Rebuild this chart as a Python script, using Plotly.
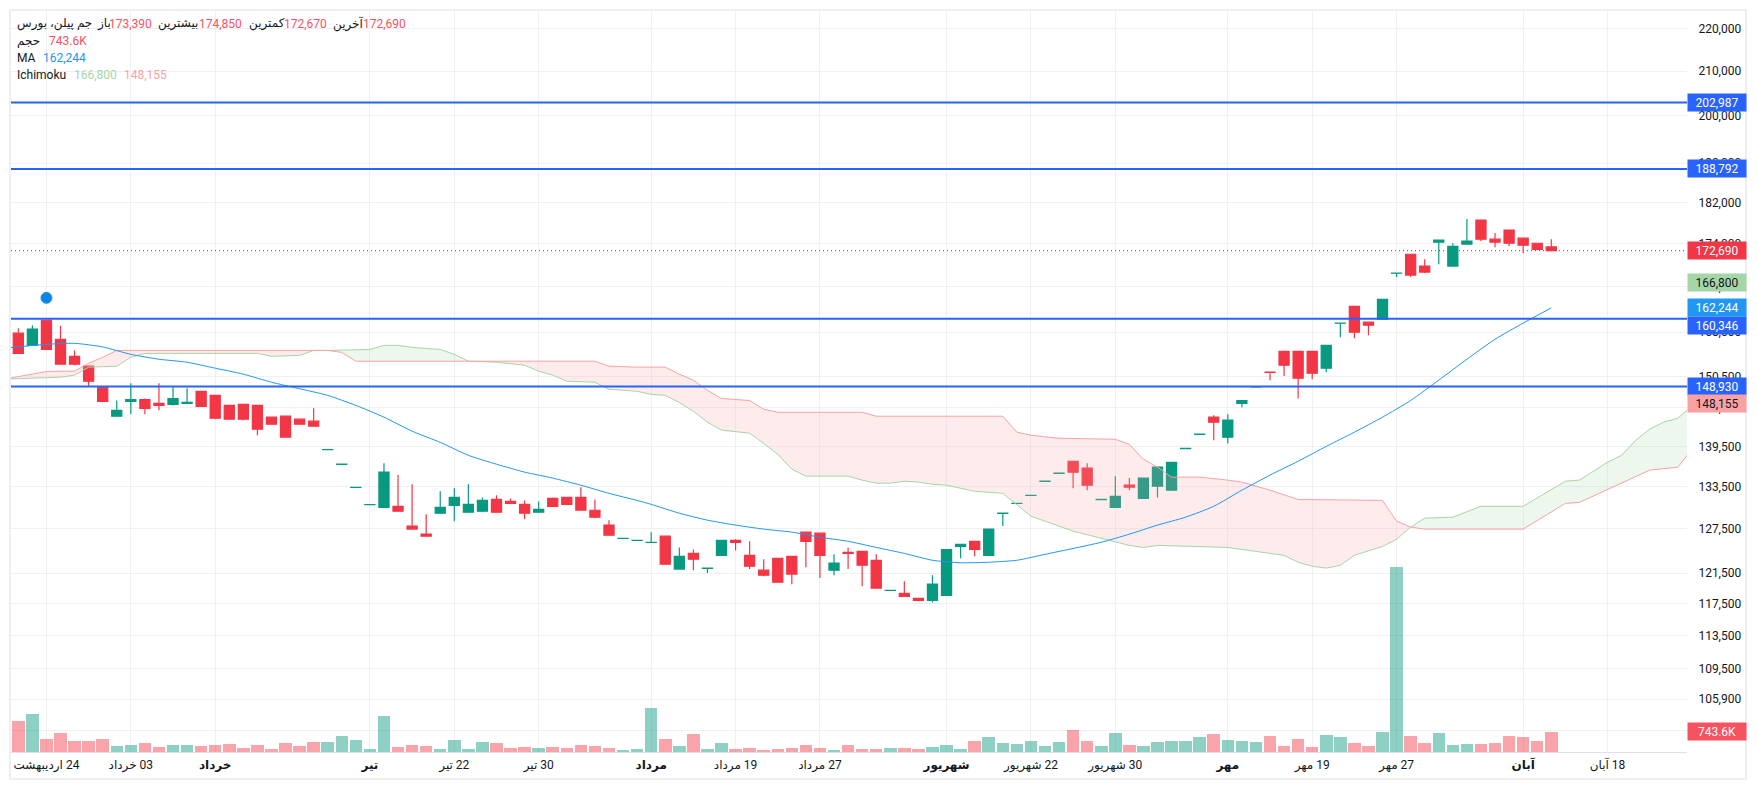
import math
import plotly.graph_objects as go

# candles, index 0..109
opens = [157830,155750,160090,156790,153900,152250,148800,144170,146510,146820,146200,146040,146200,148140,147480,145880,146040,145880,144020,144170,
         143700,143390,139010,136800,133390,130900,130540,130680,127890,126770,129700,130820,129840,129980,131660,131380,130960,129840,131810,131950,
         131950,130120,128030,126190,125910,125630,126490,122030,124140,122140,123880,125930,123880,121890,123480,123740,127050,126910,121890,124270,
         124410,123210,119230,118850,118190,117930,118590,125090,125790,123880,129680,131080,132230,134290,135470,137260,136230,131640,130540,133720,
         131810,133580,132990,139170,141350,144020,140900,146200,148850,151260,154720,154720,154720,151920,159550,162520,159740,160260,168500,172010,
         169810,174290,169810,173900,178540,174870,176610,175060,174090,173390]
highs = [158700,159220,160090,159050,154890,152250,148800,146660,149450,146980,149450,148800,148630,148140,147480,145880,146040,145880,144020,144170,
         143700,145420,139030,136820,133410,130920,136970,135200,133870,129560,132840,133280,133870,131950,132250,131810,131520,131380,131950,131950,
         133430,131660,128720,126210,125930,127050,126490,124950,124670,122160,125930,126070,125790,123350,123480,123740,127050,126910,124010,124950,
         124410,124010,119250,120440,118190,121230,124670,125370,125790,127470,129700,131100,132250,134310,135490,137260,136970,131660,135050,134760,
         134760,136380,137110,139190,141370,144330,144480,146660,148870,151260,154720,154720,154720,155750,159570,162520,159740,163740,168520,172010,
         171090,174670,174090,178740,178540,176030,176610,175060,174090,174850]
lows = [154390,155750,155050,152580,152420,148960,146510,144170,144480,144480,145110,145880,146200,145730,143700,143700,143550,141210,142920,140900,
        142920,142610,139010,136800,133390,130900,130540,129980,127470,126490,129700,128580,129840,129840,129840,130960,128860,129840,130680,130960,
        130120,129000,126630,126190,125910,125630,122690,122030,121890,121500,123880,124540,122030,121100,120310,120040,122290,120840,121230,122030,
        119780,119510,119230,118460,117930,117670,118590,123480,123740,123880,127890,131080,132230,134290,135470,133280,132990,131640,130540,132990,
        131810,131950,132990,139170,141350,140430,139960,145570,148850,149950,150610,146980,150110,151260,157130,156960,157480,160260,167780,167780,
        168520,170170,169810,173900,174480,173320,173510,172190,172750,172670]
closes = [154390,158530,155050,152580,152580,149780,146510,145110,146820,145420,145880,146980,146350,145730,143860,143700,143700,142150,142920,140900,
          142920,142610,139030,136820,133410,130920,135640,129980,127470,126490,130540,131950,130960,131520,129840,131100,129700,130260,130680,130960,
          130120,129140,126630,126210,125930,125650,122690,123740,123350,122160,125930,125650,122420,121230,120310,121370,125790,123880,122820,124140,
          122550,119510,119250,118460,117930,120040,124670,125370,124670,127470,129700,131100,132250,134310,135490,135640,133720,131660,132100,133430,
          134760,136380,137110,139190,141370,143240,143550,146660,148870,151240,152420,150280,151100,155750,159570,158000,159220,163740,168520,168150,
          168700,174670,173510,174480,174870,174290,174090,173710,172930,172690]

# volume in thousands, first value is the bar cut by the left edge
volumes = [372,1166,1426,496,719,422,422,496,236,273,347,198,273,273,236,273,310,161,273,124,347,
           236,384,384,608,459,124,1352,198,273,236,124,459,124,384,347,161,198,161,198,161,
           273,236,161,87,124,1649,496,236,682,124,347,124,161,87,124,161,273,161,87,273,
           124,124,161,161,124,198,273,124,422,570,347,310,422,236,384,831,422,236,719,273,
           236,384,422,422,558,670,446,409,372,595,223,484,186,632,558,335,223,744,6882,595,
           335,707,260,298,298,335,595,558,409,744]

ma_idx = [-1,2,4,6,8,10,12,14,16,18,20,22,24,26,28,30,32,34,36,38,40,42,44,45,47,49,51,53,55,57,59,61,63,65,67,69,71,73,75,77,79,81,83,85,87,89,91,93,95,97,99,101,103,105,107,109]
ma_vals = [155270,155920,156090,155480,154230,153410,152910,151920,150930,149610,148550,147480,145880,144020,141830,140120,138150,136820,135640,134760,
           133720,132540,131520,130960,129700,128720,128030,127470,127050,126350,125790,124950,124140,123210,122880,122950,123210,124010,124810,125650,
           126770,128030,129140,130680,132990,135200,137260,139500,141680,144020,146660,149950,153410,156790,159570,162244]

span_a_idx = [-1,3,4,5,7,8,9,17,18,20,21,22,25,26,27,28,30,31,32,34,36,37,38,39,41,42,44,45,46,47,48,49,50,52,53,54,55,56,59,60,61,62,63,64,65,66,68,70,72,75,79,80,81,84,86,90,91,92,93,94,95,97,98,99,100,102,104,107,110,111,113,114,115,116,117,118,119]
span_a = [150110,150440,150770,152090,152250,153730,154390,154390,153900,154060,154890,154890,155050,155750,155750,155400,155050,154230,153080,152910,152420,151430,150770,149780,149610,148460,148140,147640,147480,146350,144950,143240,142000,141530,139960,138290,136090,135050,135050,134460,134020,134020,134310,134170,133870,133720,132840,132540,129280,127190,125230,124950,125230,125090,124950,123880,122950,122420,122160,122550,123880,125090,126070,127750,129000,129140,130680,130680,134310,134460,137110,138150,140430,142150,143240,143860,145730]
span_b_idx = [-1,2,4,5,6,7,21,22,23,24,32,41,42,44,46,47,48,49,50,52,53,54,60,61,70,71,72,74,78,79,80,81,82,84,86,87,89,91,97,98,99,100,107,110,111,116,118,119]
span_b = [150110,151380,151430,152750,153730,154890,154890,154890,154560,153080,153080,153080,152250,152090,152090,150930,149950,148300,146980,146660,145260,144790,144790,144170,144170,141680,141210,140740,140590,139810,137560,136380,134900,134900,134460,134170,132990,131660,131520,128580,127750,127470,127470,131100,131240,135940,136380,139030]

# where the two spans cross, the cloud changes colour there
cloud_breaks = [-1,22,32,99,119]
cloud_colors = ["rgba(250,161,164,0.2)","rgba(165,214,167,0.2)","rgba(250,161,164,0.2)","rgba(165,214,167,0.2)"]

levels = [202987,188792,160346,148930]
last_price = 172690
signal_idx = [2]
signal_price = [164030]

price_ticks = [220000,210000,200000,190000,182000,174000,166000,158000,150500,145500,139500,133500,127500,121500,117500,113500,109500,105900,102300]
time_tick_idx = [2,8,14,25,31,37,45,51,57,66,72,78,86,92,98,107,113]
time_tick_text = ["\u200f24 اردیبهشت","\u200f03 خرداد","<b>خرداد</b>","<b>تیر</b>","\u200f22 تیر","\u200f30 تیر","<b>مرداد</b>","\u200f19 مرداد","\u200f27 مرداد",
                  "<b>شهریور</b>","\u200f22 شهریور","\u200f30 شهریور","<b>مهر</b>","\u200f19 مهر","\u200f27 مهر","<b>آبان</b>","\u200f18 آبان"]

GREEN = "#089981"
RED = "#f23645"
BLUE = "#2962ff"
FONT = "Roboto, 'DejaVu Sans', sans-serif"
TEXT = "#131722"

# the page body keeps its 8px margin, so the figure is 8px smaller and starts at (8, 8)
PAGE = 8
W, H = 1757 - PAGE, 790 - PAGE
L, R, T, B = 11 - PAGE, 70, 10 - PAGE, 38
x_range = [-0.52, 118.65]


def px(x):
    return (x - PAGE - L) / (W - L - R)


def py(y):
    return 1 - (y - PAGE - T) / (H - T - B)


fig = go.Figure()

vol_idx = list(range(-1, 110))
vol_colors = [RED] + [GREEN if c >= o else RED for o, c in zip(opens, closes)]
fig.add_trace(go.Bar(x=vol_idx, y=volumes, marker_color=vol_colors, marker_line_width=0, opacity=0.45,
                     width=0.89, yaxis="y"))

# cloud fill, one polygon per colour stretch
for k, color in enumerate(cloud_colors):
    a, b = cloud_breaks[k], cloud_breaks[k + 1]
    top = [(i, v) for i, v in zip(span_a_idx, span_a) if a <= i <= b]
    bot = [(i, v) for i, v in zip(span_b_idx, span_b) if a <= i <= b][::-1]
    pts = top + bot
    fig.add_trace(go.Scatter(x=[p[0] for p in pts], y=[p[1] for p in pts], yaxis="y2", mode="lines",
                             line_width=0, fill="toself", fillcolor=color))

fig.add_trace(go.Scatter(x=span_a_idx, y=span_a, yaxis="y2", mode="lines", line=dict(color="#a5d6a7", width=1)))
fig.add_trace(go.Scatter(x=span_b_idx, y=span_b, yaxis="y2", mode="lines", line=dict(color="#faa1a4", width=1)))
fig.add_trace(go.Scatter(x=ma_idx, y=ma_vals, yaxis="y2", mode="lines",
                         line=dict(color="#2196f3", width=1, shape="spline", smoothing=0.6)))

fig.add_trace(go.Candlestick(x=list(range(110)), open=opens, high=highs, low=lows, close=closes, yaxis="y2",
                             whiskerwidth=0,
                             increasing=dict(line=dict(color=GREEN, width=1.2), fillcolor=GREEN),
                             decreasing=dict(line=dict(color=RED, width=1.2), fillcolor=RED)))

fig.add_trace(go.Scatter(x=x_range, y=[last_price, last_price], yaxis="y2", mode="lines",
                         line=dict(color=RED, width=1.2, dash="1px 3px")))
for lv in levels:
    fig.add_trace(go.Scatter(x=x_range, y=[lv, lv], yaxis="y2", mode="lines", line=dict(color=BLUE, width=2)))

fig.add_trace(go.Scatter(x=signal_idx, y=signal_price, yaxis="y2", mode="markers",
                         marker=dict(color="#0b84e3", size=11, line=dict(color="#2196f3", width=1))))


def note(text, x, y, color=TEXT):
    fig.add_annotation(text=text, xref="paper", yref="paper", x=px(x), y=py(y), xanchor="left", yanchor="middle",
                       xshift=-3, showarrow=False, font=dict(family=FONT, size=12, color=color))


VAL = "#f7525f"
note("جم پیلن، بورس", 18, 24)
note("باز", 98, 24)
note("173,390", 110, 24, VAL)
note("بیشترین", 159, 24)
note("174,850", 200, 24, VAL)
note("کمترین", 250, 24)
note("172,670", 285, 24, VAL)
note("آخرین", 334, 24)
note("172,690", 364, 24, VAL)
note("حجم", 18, 41)
note("743.6K", 50, 41, VAL)
note("MA", 18, 58)
note("162,244", 44, 58, "#2196f3")
note("Ichimoku", 18, 75)
note("166,800", 75, 75, "#a5d6a7")
note("148,155", 125, 75, "#faa1a4")


def tag(value, bg, fg="#ffffff", shift=0):
    fig.add_annotation(text=f"{value:,}", xref="paper", yref="y2", x=px(1687), y=math.log10(value), yshift=shift,
                       xanchor="left", yanchor="middle", showarrow=False, width=56, height=15, align="center",
                       bgcolor=bg, borderpad=1, font=dict(family=FONT, size=12, color=fg))


tag(202987, BLUE)
tag(188792, BLUE)
tag(172690, RED)
tag(166800, "#a5d6a7", TEXT)
tag(162244, "#2196f3")
tag(160346, BLUE, shift=-7)
tag(148930, BLUE)
tag(148155, "#faa1a4", TEXT, shift=-12)
fig.add_annotation(text="743.6K", xref="paper", yref="y", x=px(1687), y=743.6, yshift=1, xanchor="left", yanchor="middle",
                   showarrow=False, width=56, height=15, align="center", bgcolor="#f7525f", borderpad=1,
                   font=dict(family=FONT, size=12, color="#ffffff"))

# outer frame of the widget
fig.add_shape(type="rect", xref="paper", yref="paper", x0=px(10), x1=px(1746), y0=py(779), y1=py(10),
              line=dict(color="#eeeef3", width=2), layer="below")

fig.update_layout(
    width=W, height=H, margin=dict(l=L, r=R, t=T, b=B), showlegend=False,
    paper_bgcolor="white", plot_bgcolor="white", boxgap=0.28, boxgroupgap=0, bargap=0,
    font=dict(family=FONT, size=12, color=TEXT),
    xaxis=dict(range=x_range, rangeslider_visible=False, tickmode="array", tickvals=time_tick_idx, ticktext=time_tick_text,
               gridcolor="#f0f0f3", gridwidth=1, showline=True, linecolor="#e0e3eb", linewidth=1, zeroline=False,
               ticks="outside", ticklen=2, tickcolor="rgba(0,0,0,0)", tickfont=dict(family=FONT, size=12, color=TEXT)),
    yaxis=dict(range=[0, 27600], visible=False),
    yaxis2=dict(type="log", overlaying="y", side="right", range=[math.log10(99970), math.log10(224500)],
                tickmode="array", tickvals=price_ticks, ticktext=[f"{t:,}" for t in price_ticks],
                gridcolor="#f0f0f3", gridwidth=1, zeroline=False, showline=False,
                ticks="outside", ticklen=8, tickcolor="rgba(0,0,0,0)", tickfont=dict(family=FONT, size=12, color=TEXT)),
)

fig.write_html("out.html")
